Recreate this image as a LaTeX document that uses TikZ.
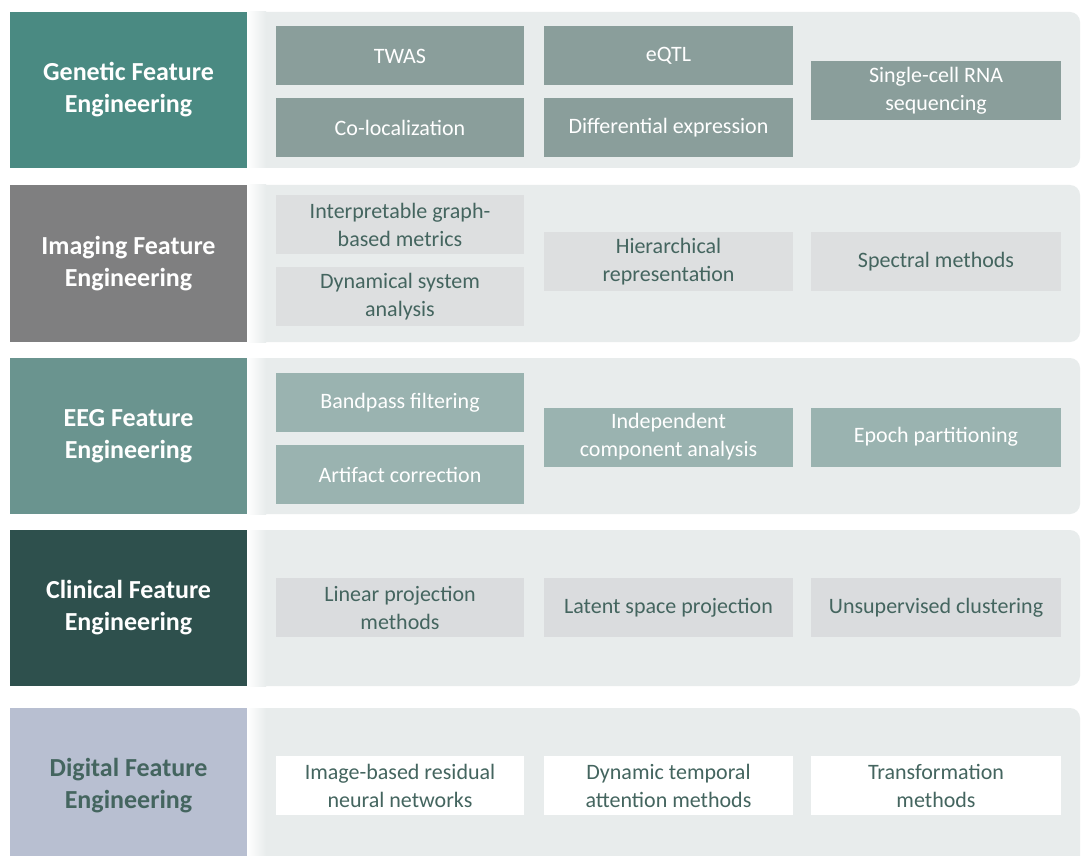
\documentclass[tikz,border=0pt]{standalone}
\usepackage{fontspec}
\setmainfont{Carlito}
\definecolor{gen}{HTML}{4A8A82}
\definecolor{img}{HTML}{7F7F80}
\definecolor{eeg}{HTML}{6A948F}
\definecolor{cli}{HTML}{2E504D}
\definecolor{dig}{HTML}{B8BFD1}
\definecolor{panel}{HTML}{E8ECEC}
\definecolor{inA}{HTML}{8A9E9B}
\definecolor{inB}{HTML}{DDDFE0}
\definecolor{inC}{HTML}{9AB3B0}
\definecolor{inD}{HTML}{DADCDE}
\definecolor{dtext}{HTML}{44655F}
\tikzset{
  lab/.style={minimum width=237pt, inner sep=0pt, align=center, font=\fontsize{26}{32}\selectfont\bfseries},
  inbox/.style={minimum height=59pt, inner sep=0pt, align=center, font=\fontsize{22}{28}\selectfont},
}
\begin{document}
\begin{tikzpicture}[x=1pt,y=-1pt]
\useasboundingbox[fill=white] (0,0) rectangle (1082,856);
% panels
\foreach \t/\b in {12/168,185/342,358/514,530/686,708/870}{
  \fill[panel, rounded corners=10pt] (240,\t) rectangle (1080,\b);
  \shade[left color=white, right color=panel] (247,\t) rectangle (266,\b);
}
% labels
\node[lab, fill=gen, text=white, minimum height=156pt] (L1) at (128.5,90) {Genetic Feature\\Engineering};
\node[lab, fill=img, text=white, minimum height=157pt] (L2) at (128.5,263.5) {Imaging Feature\\Engineering};
\node[lab, fill=eeg, text=white, minimum height=156pt] (L3) at (128.5,436) {EEG Feature\\Engineering};
\node[lab, fill=cli, text=white, minimum height=156pt] (L4) at (128.5,608) {Clinical Feature\\Engineering};
\fill[dig] (10,708) rectangle (247,856);
\node[lab, text=dtext] (L5) at (128.5,786) {Digital Feature\\Engineering};
% row 1
\begin{scope}[every node/.style={inbox, fill=inA, text=white}]
\node[minimum width=248pt] (a1) at (400,56) {TWAS};
\node[minimum width=248pt] (a2) at (400,127.5) {Co-localization};
\node[minimum width=249pt] (a3) at (668.5,56) {eQTL};
\node[minimum width=249pt] (a4) at (668.5,127.5) {Differential expression};
\node[minimum width=250pt] (a5) at (936,90.5) {Single-cell RNA\\sequencing};
\end{scope}
% row 2
\begin{scope}[every node/.style={inbox, fill=inB, text=dtext}]
\node[minimum width=248pt] (b1) at (400,224.5) {Interpretable graph-\\based metrics};
\node[minimum width=248pt] (b2) at (400,296.5) {Dynamical system\\analysis};
\node[minimum width=249pt] (b3) at (668.5,261.5) {Hierarchical\\representation};
\node[minimum width=250pt] (b4) at (936,261.5) {Spectral methods};
\end{scope}
% row 3
\begin{scope}[every node/.style={inbox, fill=inC, text=white}]
\node[minimum width=248pt] (c1) at (400,402.5) {Bandpass filtering};
\node[minimum width=248pt] (c2) at (400,474.5) {Artifact correction};
\node[minimum width=249pt] (c3) at (668.5,437) {Independent\\component analysis};
\node[minimum width=250pt] (c4) at (936,437) {Epoch partitioning};
\end{scope}
% row 4
\begin{scope}[every node/.style={inbox, fill=inD, text=dtext}]
\node[minimum width=248pt] (d1) at (400,607.5) {Linear projection\\methods};
\node[minimum width=249pt] (d2) at (668.5,607.5) {Latent space projection};
\node[minimum width=250pt] (d3) at (936,607.5) {Unsupervised clustering};
\end{scope}
% row 5
\begin{scope}[every node/.style={inbox, fill=white, text=dtext}]
\node[minimum width=248pt] (e1) at (400,785.5) {Image-based residual\\neural networks};
\node[minimum width=249pt] (e2) at (668.5,785.5) {Dynamic temporal\\attention methods};
\node[minimum width=250pt] (e3) at (936,785.5) {Transformation\\methods};
\end{scope}
\end{tikzpicture}
\end{document}
